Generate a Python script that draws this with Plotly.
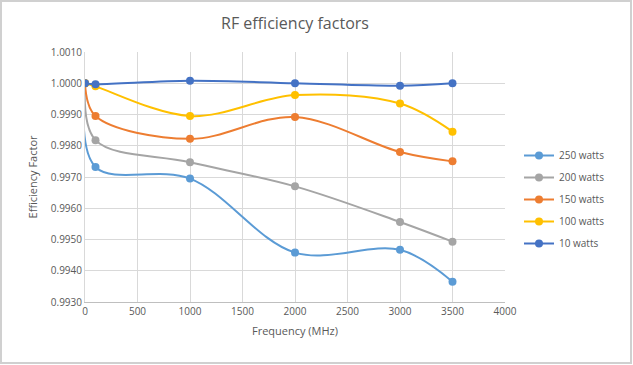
import plotly.graph_objects as go

freq = [0, 100, 1000, 2000, 3000, 3500]
eff_250 = [1.0000, 0.99732, 0.99695, 0.99458, 0.99467, 0.99365]
eff_200 = [1.0000, 0.99818, 0.99747, 0.99670, 0.99556, 0.99493]
eff_150 = [1.0000, 0.99895, 0.99822, 0.99892, 0.99780, 0.99750]
eff_100 = [1.0000, 0.99990, 0.99895, 0.99962, 0.99935, 0.99845]
eff_10 = [1.0000, 0.99997, 1.00008, 1.00000, 0.99992, 1.00000]

series = [
    ("250 watts", eff_250, "#5b9bd5"),
    ("200 watts", eff_200, "#a5a5a5"),
    ("150 watts", eff_150, "#ed7d31"),
    ("100 watts", eff_100, "#ffc000"),
    ("10 watts", eff_10, "#4472c4"),
]

fig = go.Figure()
for name, vals, col in series:
    fig.add_trace(go.Scatter(
        x=freq, y=vals, name=name, mode="lines+markers", legendgroup=name,
        line=dict(color=col, width=2, shape="spline", smoothing=1.0),
        marker=dict(color=col, size=8),
    ))

W, H = 633, 365
L, R, T, B = 85, 128, 52, 63
pw, ph = W - L - R, H - T - B

fig.update_layout(
    width=W, height=H,
    margin=dict(l=L, r=R, t=T, b=B),
    paper_bgcolor="white", plot_bgcolor="white",
    font=dict(family="Open Sans, Liberation Sans, sans-serif", color="#595959", size=10),
    title=dict(text="RF efficiency factors", x=0.5, xref="paper", y=1 - 23 / H, yanchor="middle",
               xanchor="center", font=dict(size=16, color="#595959")),
    showlegend=True,
    legend=dict(x=(519 - L) / pw, xanchor="left", y=(302 - 199.5) / ph, yanchor="middle",
                font=dict(size=10, color="#595959"), traceorder="grouped", tracegroupgap=3,
                itemwidth=30, bgcolor="rgba(0,0,0,0)"),
    xaxis=dict(range=[0, 4000], dtick=500, showgrid=True, gridcolor="#d9d9d9", gridwidth=1,
               zeroline=False, showline=True, linecolor="#bfbfbf", ticks="",
               title=dict(text="Frequency (MHz)", font=dict(size=11, color="#595959"), standoff=10),
               tickfont=dict(size=10, color="#595959")),
    yaxis=dict(range=[0.9930, 1.0010], dtick=0.001, tickformat=".4f", showgrid=True,
               gridcolor="#d9d9d9", gridwidth=1, zeroline=False, showline=True, linecolor="#d9d9d9",
               ticks="", title=dict(text="Efficiency Factor", font=dict(size=11, color="#595959"), standoff=10),
               tickfont=dict(size=10, color="#595959")),
)

fig.add_shape(type="rect", xref="paper", yref="paper",
              x0=(1 - L) / pw, x1=(W - 2 - L) / pw, y0=-(B - 2) / ph, y1=1 + (T - 1) / ph,
              line=dict(color="#d0d0d0", width=2), fillcolor="rgba(0,0,0,0)", layer="below")

fig.write_html("out.html", config={"displayModeBar": False},
               post_script="document.body.style.margin='0';")
